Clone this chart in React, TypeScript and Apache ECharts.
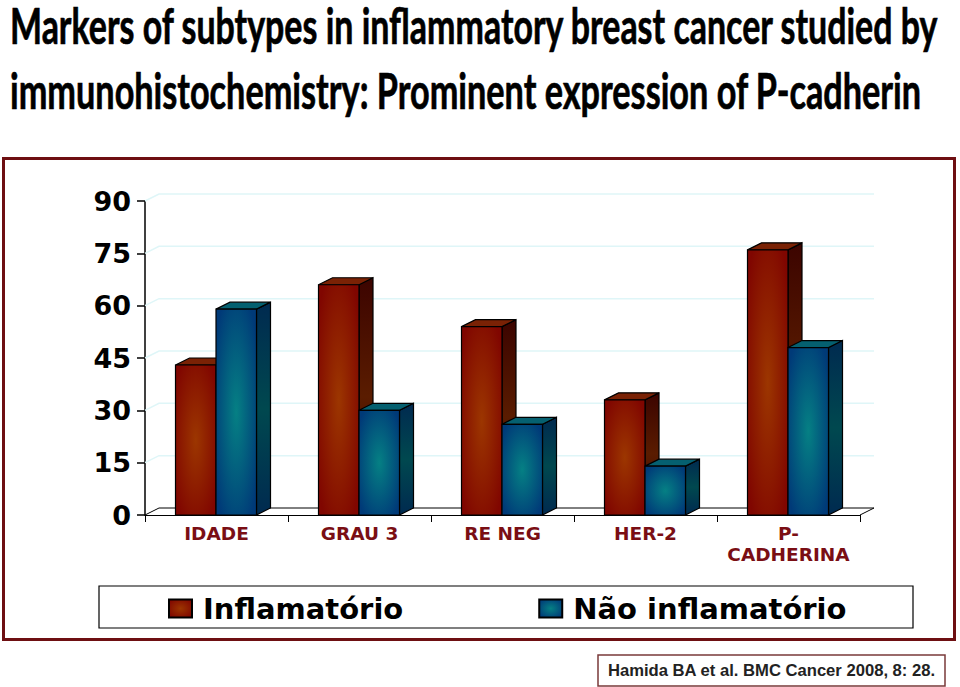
import React, { useEffect, useRef } from "react";
import * as echarts from "echarts";

const categories = ["IDADE", "GRAU 3", "RE NEG", "HER-2", "P-\nCADHERINA"];
const inflamatorio = [43, 66, 54, 33, 76];
const naoInflamatorio = [59, 30, 26, 14, 48];
const yTicks = [0, 15, 30, 45, 60, 75, 90];
const titleLines = [
  "Markers of subtypes in inflammatory breast cancer studied by",
  "immunohistochemistry: Prominent expression of P-cadherin",
];
const citation = "Hamida BA et al. BMC Cancer 2008, 8: 28.";
const NAME_A = "Inflamatório";
const NAME_B = "Não inflamatório";

const DX = 14;
const DY = -7;
const BAR_W = 40.5;
const SANS = '"Liberation Sans", Arial, sans-serif';
const WIDE = '"DejaVu Sans", sans-serif';
const TITLE_FONT = "bold 36px Lato";
const TITLE_STRETCH = 50 / 36;
const CITE_FONT = `bold 17px ${SANS}`;

const radial = (c: string, o: string) =>
  new echarts.graphic.RadialGradient(0.5, 0.5, 0.62, [
    { offset: 0, color: c },
    { offset: 1, color: o },
  ]);
const vertical = (a: string, b: string, c: string) =>
  new echarts.graphic.LinearGradient(0, 0, 0, 1, [
    { offset: 0, color: a },
    { offset: 0.5, color: b },
    { offset: 1, color: c },
  ]);

function bar3d(side: 0 | 1, front: any, top: string, right: any) {
  return (_p: any, api: any) => {
    const cat = api.value(0);
    const [cxRaw, y] = api.coord([cat, api.value(1)]);
    const [, y0] = api.coord([cat, 0]);
    const cx = cxRaw - 0.5;
    const x0 = side === 0 ? cx - BAR_W : cx;
    const x1 = x0 + BAR_W;
    const st = { stroke: "#000", lineWidth: 1.2 };
    return {
      type: "group",
      children: [
        {
          type: "polygon",
          shape: { points: [[x1, y], [x1 + DX, y + DY], [x1 + DX, y0 + DY], [x1, y0]] },
          style: { fill: right, ...st },
        },
        {
          type: "polygon",
          shape: { points: [[x0, y], [x0 + DX, y + DY], [x1 + DX, y + DY], [x1, y]] },
          style: { fill: top, ...st },
        },
        {
          type: "rect",
          shape: { x: x0, y, width: BAR_W, height: y0 - y },
          style: { fill: front, ...st },
        },
      ],
    };
  };
}

function wall(_p: any, api: any) {
  const v = api.value(0);
  const band = api.size([1, 0])[0];
  const [cFirst, y] = api.coord([0, v]);
  const [cLast] = api.coord([categories.length - 1, v]);
  const x0 = cFirst - band / 2;
  const x1 = cLast + band / 2;
  if (v === 0) {
    return {
      type: "polyline",
      shape: { points: [[x0, y], [x0 + DX, y + DY], [x1 + DX, y + DY], [x1, y]] },
      style: { fill: "none", stroke: "#000", lineWidth: 1 },
    };
  }
  return {
    type: "polyline",
    shape: { points: [[x0, y], [x0 + DX, y + DY], [x1 + DX, y + DY]] },
    style: { fill: "none", stroke: "#dff6f8", lineWidth: 1.5 },
  };
}

function fitScale(text: string, font: string, target: number) {
  const ctx = document.createElement("canvas").getContext("2d")!;
  ctx.font = font;
  return target / ctx.measureText(text).width;
}

export default function App() {
  const ref = useRef<HTMLDivElement>(null);
  useEffect(() => {
    document.body.style.margin = "0";
    const chart = echarts.init(ref.current!, null, { renderer: "svg" });
    const redFront = radial("#9c3600", "#800600");
    const blueFront = radial("#058084", "#003a78");
    chart.setOption({
      animation: false,
      backgroundColor: "#fff",
      grid: { left: 145, right: 100, top: 201, bottom: 172 },
      xAxis: {
        type: "category",
        data: categories,
        axisLine: { lineStyle: { color: "#000", width: 1 } },
        axisTick: { show: true, length: 7, lineStyle: { color: "#000" } },
        axisLabel: {
          interval: 0,
          margin: 8,
          lineHeight: 21,
          color: "#7a0e14",
          fontFamily: WIDE,
          fontWeight: "bold",
          fontSize: 18.5,
        },
      },
      yAxis: {
        type: "value",
        min: 0,
        max: 90,
        interval: 15,
        splitLine: { show: false },
        axisLine: { show: true, lineStyle: { color: "#000", width: 1.5 } },
        axisTick: { show: true, length: 8, lineStyle: { color: "#000", width: 1.5 } },
        axisLabel: {
          margin: 14,
          color: "#000",
          fontFamily: WIDE,
          fontWeight: "bold",
          fontSize: 27,
        },
      },
      legend: {
        data: [NAME_A, NAME_B],
        left: 168,
        top: 594,
        padding: 0,
        itemWidth: 23,
        itemHeight: 18,
        itemGap: 135,
        icon: "rect",
        textStyle: {
          color: "#000",
          fontFamily: WIDE,
          fontWeight: "bold",
          fontSize: 29,
          padding: [0, 0, 0, 6],
        },
        selectedMode: false,
      },
      series: [
        {
          type: "custom",
          name: "wall",
          data: yTicks.map((t) => [t]),
          encode: { y: 0 },
          renderItem: wall,
          silent: true,
          z: 1,
        },
        {
          type: "custom",
          name: NAME_A,
          data: inflamatorio.map((v, i) => [i, v]),
          encode: { x: 0, y: 1 },
          renderItem: bar3d(0, redFront, "#7a2205", vertical("#3c0400", "#5a1c00", "#3c0400")),
          itemStyle: { color: redFront, borderColor: "#000", borderWidth: 1 },
          silent: true,
          z: 2,
        },
        {
          type: "custom",
          name: NAME_B,
          data: naoInflamatorio.map((v, i) => [i, v]),
          encode: { x: 0, y: 1 },
          renderItem: bar3d(1, blueFront, "#056070", vertical("#002a50", "#00484f", "#002a50")),
          itemStyle: { color: blueFront, borderColor: "#000", borderWidth: 1 },
          silent: true,
          z: 3,
        },
      ],
      graphic: [
        {
          type: "rect",
          z: 0,
          silent: true,
          shape: { x: 3.5, y: 158.5, width: 951, height: 481 },
          style: { fill: "none", stroke: "#6e0f12", lineWidth: 3 },
        },
        {
          type: "rect",
          z: 0,
          silent: true,
          shape: { x: 99, y: 586, width: 814, height: 42 },
          style: { fill: "#fff", stroke: "#000", lineWidth: 1.2 },
        },
        {
          type: "rect",
          z: 0,
          silent: true,
          shape: { x: 598, y: 655, width: 347, height: 31 },
          style: { fill: "#fff", stroke: "#7a3a3a", lineWidth: 1.5 },
        },
        {
          type: "text",
          x: 608,
          y: 662,
          scaleX: fitScale(citation, CITE_FONT, 328),
          silent: true,
          style: { text: citation, fill: "#222", font: CITE_FONT },
        },
        {
          type: "text",
          x: 10,
          y: 2,
          scaleX: fitScale(titleLines[0], TITLE_FONT, 930),
          scaleY: TITLE_STRETCH,
          silent: true,
          style: { text: titleLines[0], fill: "#000", font: TITLE_FONT, lineHeight: 32, stroke: "#000", lineWidth: 0.5 },
        },
        {
          type: "text",
          x: 10,
          y: 68,
          scaleX: fitScale(titleLines[1], TITLE_FONT, 912),
          scaleY: TITLE_STRETCH,
          silent: true,
          style: { text: titleLines[1], fill: "#000", font: TITLE_FONT, lineHeight: 32, stroke: "#000", lineWidth: 0.5 },
        },
      ],
    });
    return () => chart.dispose();
  }, []);
  return <div ref={ref} style={{ position: "absolute", left: 0, top: 0, width: 960, height: 687 }} />;
}
